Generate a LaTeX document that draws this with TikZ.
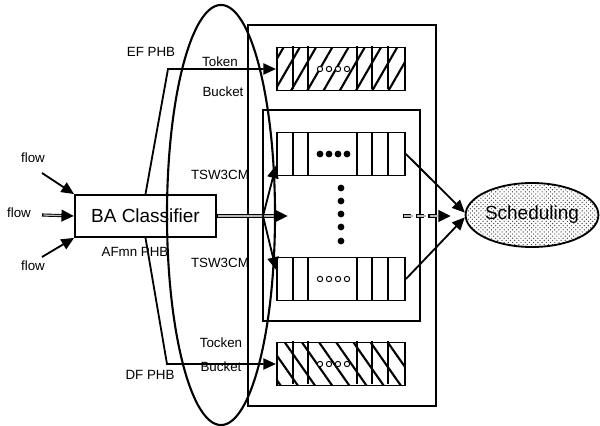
\documentclass[tikz,border=0pt]{standalone}
\usepackage{fontspec}
\setmainfont{Liberation Sans}
\usetikzlibrary{arrows.meta,shapes.geometric,patterns,patterns.meta}

\begin{document}
\begin{tikzpicture}[x=0.025cm, y=-0.025cm,
  lbl/.style={font=\fontsize{9.5}{11}\selectfont, inner sep=0pt},
  big/.style={font=\fontsize{13.5}{16}\selectfont},
  arr/.style={line width=1.3pt, -{Triangle[length=9pt,width=8pt]}},
  pipe/.style={line width=2.2pt, -{Triangle[length=9pt,width=8pt]},
    postaction={draw=gray!55, line width=0.9pt, shorten >=9pt, shorten <=1pt, -}},
  queue/.style={draw, line width=1.3pt, minimum width=3.2cm, minimum height=1.075cm, inner sep=0pt}]
\useasboundingbox (0,0) rectangle (600,426);

% frames round the queues
\draw[line width=1.3pt] (248,25) rectangle (436,406);
\draw[line width=1.3pt] (263,110) rectangle (420,321);

% queues: token buckets (hatched) and TSW3CM queues
\node[queue, pattern={Lines[angle=60,distance=10pt,line width=1.5pt]}] (ef) at (341,69) {};
\node[queue, fill=white] (tswa) at (341,154) {};
\node[queue, fill=white] (tswb) at (341,279) {};
\node[queue, pattern={Lines[angle=-55,distance=10pt,line width=1.5pt]}] (df) at (341,364) {};

% cell borders
\foreach \q in {ef,tswa,tswb,df}
  \foreach \d in {17,32,81,96,112}
    \draw[line width=1.2pt] (\q.north west) ++(\d,0) -- ++(0,43);

% packets in the middle cell
\foreach \x in {320,329,338,347} {
  \draw[fill=white, line width=0.7pt] (\x,69) circle[radius=1.9pt];
  \fill (\x,154) circle[radius=2.4pt];
  \draw[fill=white, line width=0.7pt] (\x,279) circle[radius=1.9pt];
  \draw[fill=white, line width=0.7pt] (\x,364) circle[radius=1.9pt];
}
% more queues in between
\foreach \y in {188,201,214,227,241}
  \fill (341,\y) circle[radius=2.4pt];

% classifier and scheduler
\node[draw, line width=1.3pt, fill=white, minimum width=3.525cm, minimum height=1.05cm, big] (cls) at (145.5,216) {BA Classifier};
\node[ellipse, draw, line width=1.3pt, pattern=crosshatch dots, pattern color=black!70, minimum width=3.225cm, minimum height=1.6cm, inner sep=0pt, big] (sched) at (532,215) {Scheduling};

% incoming flows
\coordinate (s1) at (42,173);
\coordinate (s2) at (42,215);
\coordinate (s3) at (42,257);
\draw[arr] (s1) -- (cls.north west);
\draw[pipe] (s2) -- (cls.west);
\draw[arr] (s3) -- (cls.south west);
\node[lbl] (flowa) at (33,158) {flow};
\node[lbl] (flowb) at (19,213) {flow};
\node[lbl] (flowc) at (33,266) {flow};

% AF traffic to the TSW3CM queues
\coordinate (fork) at (263,216);
\coordinate (mid) at (288,216);
\draw[pipe] (cls.east) -- (mid);
\draw[arr] (fork) -- (tswa.190);
\draw[arr] (fork) -- (tswb.172);

% EF and DF traffic to the token buckets
\coordinate (efbend) at (168,69);
\coordinate (dfbend) at (167,364);
\draw[arr] (cls.north) -- (efbend) -- (ef.west);
\draw[arr] (cls.south) -- (dfbend) -- (df.west);

% to the scheduler
\coordinate (dstart) at (403,216);
\coordinate (dend) at (451,216);
\draw[pipe, dash pattern=on 6pt off 3pt] (dstart) -- (dend);
\draw[arr] (tswa.east) -- (sched.178);
\draw[arr] (tswb.east) -- (sched.182);

% the PHB ellipse
\draw[line width=1.5pt] (221,215) ellipse [x radius=1.35cm, y radius=5.25cm];

% labels
\node[lbl] (efl) at (151,52) {EF PHB};
\node[lbl] (tokena) at (220,62) {Token};
\node[lbl] (bucketa) at (223,92) {Bucket};
\node[lbl] (tswla) at (220,175) {TSW3CM};
\node[lbl] (afl) at (135,252) {AFmn PHB};
\node[lbl] (tswlb) at (220,263) {TSW3CM};
\node[lbl] (tokenb) at (221,343) {Tocken};
\node[lbl] (bucketb) at (221,367) {Bucket};
\node[lbl] (dfl) at (150,375) {DF PHB};
\end{tikzpicture}
\end{document}
